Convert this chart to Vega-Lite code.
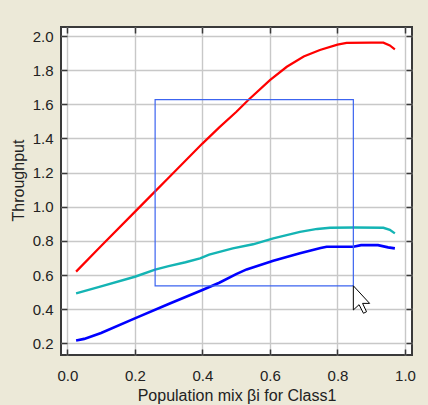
{
  "$schema": "https://vega.github.io/schema/vega-lite/v6.json",
  "width": 351,
  "height": 328,
  "autosize": {"type": "none"},
  "padding": {"left": 61, "top": 27, "right": 16, "bottom": 50},
  "background": "#ECE9D8",
  "config": {
    "view": {"stroke": "#3a3a3a", "strokeWidth": 2, "fill": "white"},
    "font": "Liberation Sans",
    "axis": {
      "labelFont": "Liberation Sans",
      "titleFont": "Liberation Sans",
      "labelFontSize": 15,
      "titleFontSize": 16,
      "titleFontWeight": "normal",
      "labelColor": "#222222",
      "titleColor": "#222222",
      "gridColor": "#c8c8c8",
      "gridOpacity": 1,
      "gridWidth": 1.4,
      "tickColor": "#3a3a3a",
      "tickWidth": 1.5,
      "domain": false
    }
  },
  "datasets": {
    "lines": [
      {"series": "red", "x": 0.026, "y": 0.62},
      {"series": "red", "x": 0.1, "y": 0.77},
      {"series": "red", "x": 0.2, "y": 0.97},
      {"series": "red", "x": 0.26, "y": 1.09},
      {"series": "red", "x": 0.3, "y": 1.17},
      {"series": "red", "x": 0.4, "y": 1.37},
      {"series": "red", "x": 0.45, "y": 1.465},
      {"series": "red", "x": 0.5, "y": 1.555},
      {"series": "red", "x": 0.536, "y": 1.625},
      {"series": "red", "x": 0.6, "y": 1.742},
      {"series": "red", "x": 0.65, "y": 1.82},
      {"series": "red", "x": 0.7, "y": 1.88},
      {"series": "red", "x": 0.748, "y": 1.918},
      {"series": "red", "x": 0.8, "y": 1.95},
      {"series": "red", "x": 0.827, "y": 1.96},
      {"series": "red", "x": 0.9, "y": 1.962},
      {"series": "red", "x": 0.936, "y": 1.961},
      {"series": "red", "x": 0.955, "y": 1.945},
      {"series": "red", "x": 0.97, "y": 1.922},
      {"series": "teal", "x": 0.026, "y": 0.493},
      {"series": "teal", "x": 0.1, "y": 0.533},
      {"series": "teal", "x": 0.2, "y": 0.59},
      {"series": "teal", "x": 0.26, "y": 0.632},
      {"series": "teal", "x": 0.3, "y": 0.652},
      {"series": "teal", "x": 0.35, "y": 0.675},
      {"series": "teal", "x": 0.393, "y": 0.698},
      {"series": "teal", "x": 0.42, "y": 0.72},
      {"series": "teal", "x": 0.49, "y": 0.756},
      {"series": "teal", "x": 0.55, "y": 0.78},
      {"series": "teal", "x": 0.61, "y": 0.815},
      {"series": "teal", "x": 0.689, "y": 0.853},
      {"series": "teal", "x": 0.74, "y": 0.87},
      {"series": "teal", "x": 0.778, "y": 0.877},
      {"series": "teal", "x": 0.85, "y": 0.878},
      {"series": "teal", "x": 0.936, "y": 0.877},
      {"series": "teal", "x": 0.955, "y": 0.865},
      {"series": "teal", "x": 0.97, "y": 0.844},
      {"series": "blue", "x": 0.026, "y": 0.217},
      {"series": "blue", "x": 0.05, "y": 0.226},
      {"series": "blue", "x": 0.1, "y": 0.26},
      {"series": "blue", "x": 0.2, "y": 0.346},
      {"series": "blue", "x": 0.3, "y": 0.43},
      {"series": "blue", "x": 0.4, "y": 0.512},
      {"series": "blue", "x": 0.45, "y": 0.555},
      {"series": "blue", "x": 0.5, "y": 0.605},
      {"series": "blue", "x": 0.531, "y": 0.633},
      {"series": "blue", "x": 0.61, "y": 0.684},
      {"series": "blue", "x": 0.689, "y": 0.727},
      {"series": "blue", "x": 0.75, "y": 0.758},
      {"series": "blue", "x": 0.768, "y": 0.766},
      {"series": "blue", "x": 0.847, "y": 0.766},
      {"series": "blue", "x": 0.87, "y": 0.775},
      {"series": "blue", "x": 0.92, "y": 0.775},
      {"series": "blue", "x": 0.95, "y": 0.762},
      {"series": "blue", "x": 0.97, "y": 0.756}
    ],
    "zoombox": [{"x1": 0.26, "x2": 0.847, "y1": 0.537, "y2": 1.627}],
    "cursor": [{"x": 0.847, "y": 0.537}]
  },
  "resolve": {"axis": {"x": "independent", "y": "independent"}},
  "layer": [
    {
      "data": {"name": "lines"},
      "mark": {"type": "line", "clip": true},
      "encoding": {
        "x": {
          "field": "x", "type": "quantitative",
          "scale": {"domain": [-0.0187, 1.0207], "nice": false, "zero": false},
          "axis": {
            "title": "Population mix βi for Class1",
            "values": [0, 0.2, 0.4, 0.6, 0.8, 1.0],
            "format": ".1f",
            "tickSize": -6,
            "labelPadding": 19,
            "titlePadding": 4,
            "labelFlush": false
          }
        },
        "y": {
          "field": "y", "type": "quantitative",
          "scale": {"domain": [0.1315, 2.053], "nice": false, "zero": false},
          "axis": {
            "title": "Throughput",
            "values": [0.2, 0.4, 0.6, 0.8, 1.0, 1.2, 1.4, 1.6, 1.8, 2.0],
            "format": ".1f",
            "tickSize": -6,
            "labelPadding": 14,
            "titlePadding": 6,
            "labelFlush": false,
            "titleY": 153
          }
        },
        "color": {
          "field": "series", "type": "nominal",
          "scale": {"domain": ["red", "teal", "blue"], "range": ["#ff0000", "#14b4b4", "#0000ff"]},
          "legend": null
        },
        "strokeWidth": {
          "field": "series", "type": "nominal",
          "scale": {"domain": ["red", "teal", "blue"], "range": [2.2, 2.6, 3]},
          "legend": null
        }
      }
    },
    {
      "data": {"name": "zoombox"},
      "mark": {"type": "rect", "fill": null, "fillOpacity": 0, "stroke": "#3c64f0", "strokeWidth": 1.2},
      "encoding": {
        "x": {
          "field": "x1", "type": "quantitative",
          "axis": {"orient": "top", "values": [0, 0.2, 0.4, 0.6, 0.8, 1.0], "tickSize": -6, "labels": false, "grid": false, "title": null}
        },
        "x2": {"field": "x2"},
        "y": {
          "field": "y1", "type": "quantitative",
          "axis": {"orient": "right", "values": [0.2, 0.4, 0.6, 0.8, 1.0, 1.2, 1.4, 1.6, 1.8, 2.0], "tickSize": -6, "labels": false, "grid": false, "title": null}
        },
        "y2": {"field": "y2"}
      }
    },
    {
      "data": {"name": "cursor"},
      "mark": {
        "type": "point",
        "shape": "M0,0 L0,1.1 L0.26,0.86 L0.46,1.25 L0.6,1.18 L0.42,0.8 L0.74,0.8 Z",
        "size": 1936,
        "filled": true,
        "fill": "white",
        "stroke": "black",
        "strokeWidth": 1,
        "opacity": 1
      },
      "encoding": {
        "x": {"field": "x", "type": "quantitative", "axis": null},
        "y": {"field": "y", "type": "quantitative", "axis": null}
      }
    }
  ]
}
